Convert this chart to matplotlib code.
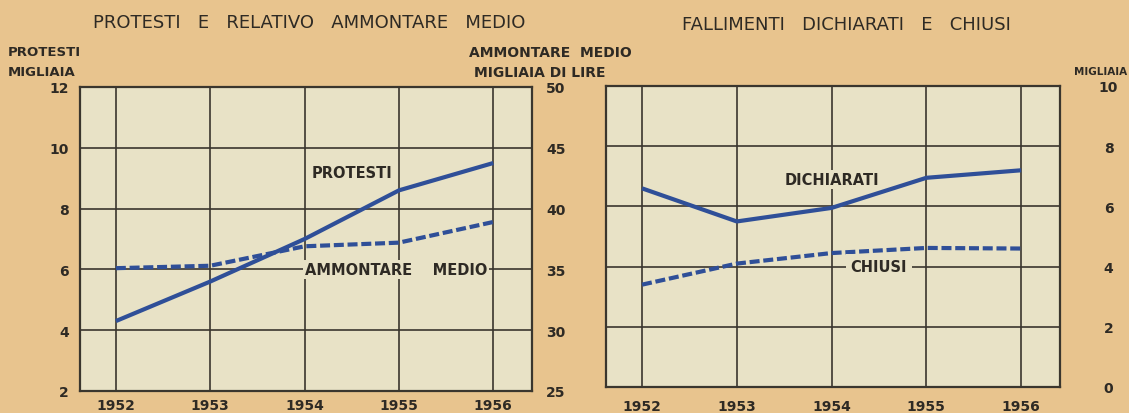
import matplotlib
matplotlib.use("Agg")
import matplotlib.pyplot as plt

years = [1952, 1953, 1954, 1955, 1956]
protesti = [4.3, 5.6, 7.0, 8.6, 9.5]            # migliaia
ammontare_medio = [35.1, 35.3, 36.9, 37.2, 38.9]  # migliaia di lire
dichiarati = [6.6, 5.5, 5.95, 6.95, 7.2]         # migliaia
chiusi = [3.4, 4.1, 4.45, 4.62, 4.6]             # migliaia

left_ticks = [2, 4, 6, 8, 10, 12]
right_ticks = [25, 30, 35, 40, 45, 50]
fall_ticks = [0, 2, 4, 6, 8, 10]

PAGE = "#e8c48e"
PLOT = "#e8e2c6"
LINE = "#2f4f98"
INK = "#2e2a24"
GRID = "#3a362e"

plt.rcParams['font.family'] = ['DejaVu Sans']

fig = plt.figure(figsize=(11.29, 4.14), dpi=100)
fig.patch.set_facecolor(PAGE)

W, H = 1129, 414
def rect(l, t, r, b):
    return [l / W, (H - b) / H, (r - l) / W, (b - t) / H]

xlim = (1951.62, 1956.41)
TICK_FS = 10

def style_axes(ax, yticks, ylim):
    ax.set_facecolor(PLOT)
    ax.set_xlim(*xlim)
    ax.set_ylim(*ylim)
    ax.set_xticks(years)
    ax.set_yticks(yticks)
    ax.grid(True, color=GRID, lw=1.2, zorder=1)
    for s in ax.spines.values():
        s.set_color(GRID)
        s.set_linewidth(1.6)
    ax.tick_params(length=0, labelsize=TICK_FS, colors=INK)
    for lab in ax.get_xticklabels() + ax.get_yticklabels():
        lab.set_fontweight('bold')
    ax.set_axisbelow(True)

# ---------- Left panel ----------
ax1 = fig.add_axes(rect(80, 88, 532, 392))
style_axes(ax1, left_ticks, (2, 12))
ax1.set_xticklabels([str(y) for y in years])
ax1.tick_params(axis='x', pad=5)
ax1.tick_params(axis='y', pad=8)
for lab in ax1.get_xticklabels():
    lab.set_fontweight('bold')
ax1.plot(years, protesti, color=LINE, lw=3.0, solid_capstyle='butt', zorder=4)

ax1r = ax1.twinx()
ax1r.set_ylim(25, 50)
ax1r.set_yticks(right_ticks)
ax1r.tick_params(length=0, labelsize=TICK_FS, colors=INK, pad=10)
for lab in ax1r.get_yticklabels():
    lab.set_fontweight('bold')
for s in ax1r.spines.values():
    s.set_visible(False)
ax1r.plot(years, ammontare_medio, color=LINE, lw=3.0, ls=(0, (2.4, 0.9)),
          dash_capstyle='butt', zorder=4)

ax1.text(1954.5, 9.2, "PROTESTI", ha='center', va='center', fontsize=10.5,
         fontweight='bold', color=INK, zorder=5,
         bbox=dict(facecolor=PLOT, edgecolor='none', pad=1.5))
ax1r.text(1954.97, 35.0, "AMMONTARE    MEDIO", ha='center', va='center',
          fontsize=10.5, fontweight='bold', color=INK, zorder=5,
          bbox=dict(facecolor=PLOT, edgecolor='none', pad=1.5))

fig.text(309 / W, 1 - 23 / H, "PROTESTI   E   RELATIVO   AMMONTARE   MEDIO",
         ha='center', va='center', fontsize=13, color=INK)
fig.text(8 / W, 1 - 53 / H, "PROTESTI", ha='left', va='center', fontsize=9.5,
         fontweight='bold', color=INK)
fig.text(8 / W, 1 - 73 / H, "MIGLIAIA", ha='left', va='center', fontsize=9.5,
         fontweight='bold', color=INK)
fig.text(550 / W, 1 - 53 / H, "AMMONTARE  MEDIO", ha='center', va='center',
         fontsize=10, fontweight='bold', color=INK)
fig.text(540 / W, 1 - 73 / H, "MIGLIAIA DI LIRE", ha='center', va='center',
         fontsize=10, fontweight='bold', color=INK)

# ---------- Right panel ----------
ax2 = fig.add_axes(rect(606, 87, 1060, 388))
style_axes(ax2, fall_ticks, (0, 10))
ax2.set_xticklabels([str(y) for y in years])
ax2.tick_params(axis='x', pad=9)
ax2.yaxis.tick_right()
ax2.tick_params(axis='y', pad=35)
for lab in ax2.get_yticklabels() + ax2.get_xticklabels():
    lab.set_fontweight('bold')
for lab in ax2.get_yticklabels():
    lab.set_horizontalalignment('center')

ax2.plot(years, dichiarati, color=LINE, lw=3.0, solid_capstyle='butt', zorder=4)
ax2.plot(years, chiusi, color=LINE, lw=3.0, ls=(0, (2.4, 0.9)),
         dash_capstyle='butt', zorder=4)

ax2.text(1954.0, 6.9, "DICHIARATI", ha='center', va='center', fontsize=10.5,
         fontweight='bold', color=INK, zorder=5,
         bbox=dict(facecolor=PLOT, edgecolor='none', pad=1.5))
ax2.text(1954.5, 4.0, "CHIUSI", ha='center', va='center', fontsize=10.5,
         fontweight='bold', color=INK, zorder=5,
         bbox=dict(facecolor=PLOT, edgecolor='none', pad=3.5))

fig.text(846 / W, 1 - 25 / H, "FALLIMENTI   DICHIARATI   E   CHIUSI",
         ha='center', va='center', fontsize=13, color=INK)
fig.text(1127 / W, 1 - 72 / H, "MIGLIAIA", ha='right', va='center',
         fontsize=7.5, fontweight='bold', color=INK)

fig.savefig("out.png", dpi=100, facecolor=PAGE)
